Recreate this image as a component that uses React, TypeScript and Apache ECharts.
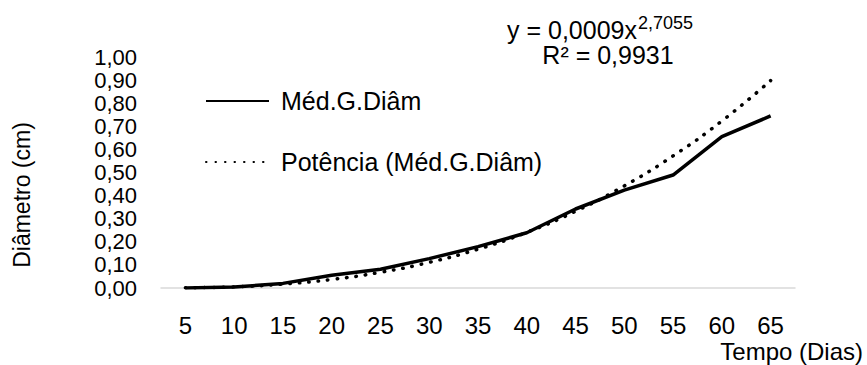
import React, { useEffect, useRef } from "react";
import * as echarts from "echarts";

const categories = ["5", "10", "15", "20", "25", "30", "35", "40", "45", "50", "55", "60", "65"];
const medGDiam = [0.0, 0.004, 0.02, 0.055, 0.081, 0.127, 0.179, 0.239, 0.342, 0.424, 0.489, 0.655, 0.745];
const potenciaTrend = [0.001, 0.005, 0.017, 0.037, 0.068, 0.111, 0.168, 0.241, 0.332, 0.442, 0.572, 0.723, 0.898];
const seriesNames = ["Méd.G.Diâm", "Potência (Méd.G.Diâm)"];
const equationLine = "y = 0,0009x";
const equationExp = "2,7055";
const r2Line = "R² = 0,9931";
const xAxisTitle = "Tempo (Dias)";
const yAxisTitle = "Diâmetro (cm)";

const FONT = '"Liberation Sans", Arial, sans-serif';

export default function App() {
  const ref = useRef<HTMLDivElement>(null);
  useEffect(() => {
    document.body.style.margin = "0";
    const chart = echarts.init(ref.current!, null, { renderer: "svg" });
    chart.setOption({
      animation: false,
      backgroundColor: "#ffffff",
      color: ["#000000", "#000000"],
      textStyle: { fontFamily: FONT, color: "#000" },
      grid: { left: 161, right: 72, top: 57, bottom: 77, containLabel: false },
      legend: {
        orient: "vertical",
        left: 205,
        top: 86,
        padding: 0,
        itemWidth: 63,
        itemHeight: 14,
        itemGap: 31,
        data: seriesNames,
        itemStyle: { opacity: 0, borderWidth: 0 },
        textStyle: { fontSize: 25, fontFamily: FONT, color: "#000", lineHeight: 30, padding: [0, 0, 0, 7] },
      },
      xAxis: {
        type: "category",
        data: categories,
        boundaryGap: true,
        axisLine: { lineStyle: { color: "#d9d9d9", width: 1.5 } },
        axisTick: { show: false },
        axisLabel: { fontSize: 24, fontFamily: FONT, color: "#000", margin: 25 },
        splitLine: { show: false },
      },
      yAxis: {
        type: "value",
        min: 0,
        max: 1,
        interval: 0.1,
        axisLine: { show: false },
        axisTick: { show: false },
        splitLine: { show: false },
        axisLabel: {
          fontSize: 22,
          lineHeight: 21,
          fontFamily: FONT,
          color: "#000",
          margin: 24,
          showMinLabel: true,
          showMaxLabel: true,
          hideOverlap: false,
          formatter: (v: number) => v.toFixed(2).replace(".", ","),
        },
      },
      series: [
        {
          name: seriesNames[1],
          type: "line",
          data: potenciaTrend,
          smooth: true,
          symbol: "none",
          itemStyle: { color: "#000" },
          lineStyle: { color: "#000", width: 3.5, type: [0.5, 9], cap: "round" },
          z: 2,
        },
        {
          name: seriesNames[0],
          type: "line",
          data: medGDiam,
          symbol: "none",
          itemStyle: { color: "#000" },
          lineStyle: { color: "#000", width: 3.5, type: "solid" },
          z: 3,
        },
      ],
      graphic: [
        {
          type: "text",
          x: 637,
          y: 30,
          style: { text: equationLine, align: "right", verticalAlign: "middle", font: `25px ${FONT}`, fill: "#000" },
        },
        {
          type: "text",
          x: 638,
          y: 23,
          style: { text: equationExp, align: "left", verticalAlign: "middle", font: `18px ${FONT}`, fill: "#000" },
        },
        {
          type: "text",
          x: 608,
          y: 55,
          style: { text: r2Line, align: "center", verticalAlign: "middle", font: `25px ${FONT}`, fill: "#000" },
        },
        {
          type: "text",
          x: 22,
          y: 195,
          rotation: Math.PI / 2,
          style: { text: yAxisTitle, align: "center", verticalAlign: "middle", font: `23px ${FONT}`, fill: "#000" },
        },
        {
          type: "text",
          x: 863,
          y: 351,
          style: { text: xAxisTitle, align: "right", verticalAlign: "middle", font: `24px ${FONT}`, fill: "#000" },
        },
      ],
    });
    return () => chart.dispose();
  }, []);
  return <div ref={ref} style={{ width: 867, height: 365, position: "absolute", left: 0, top: 0 }} />;
}
